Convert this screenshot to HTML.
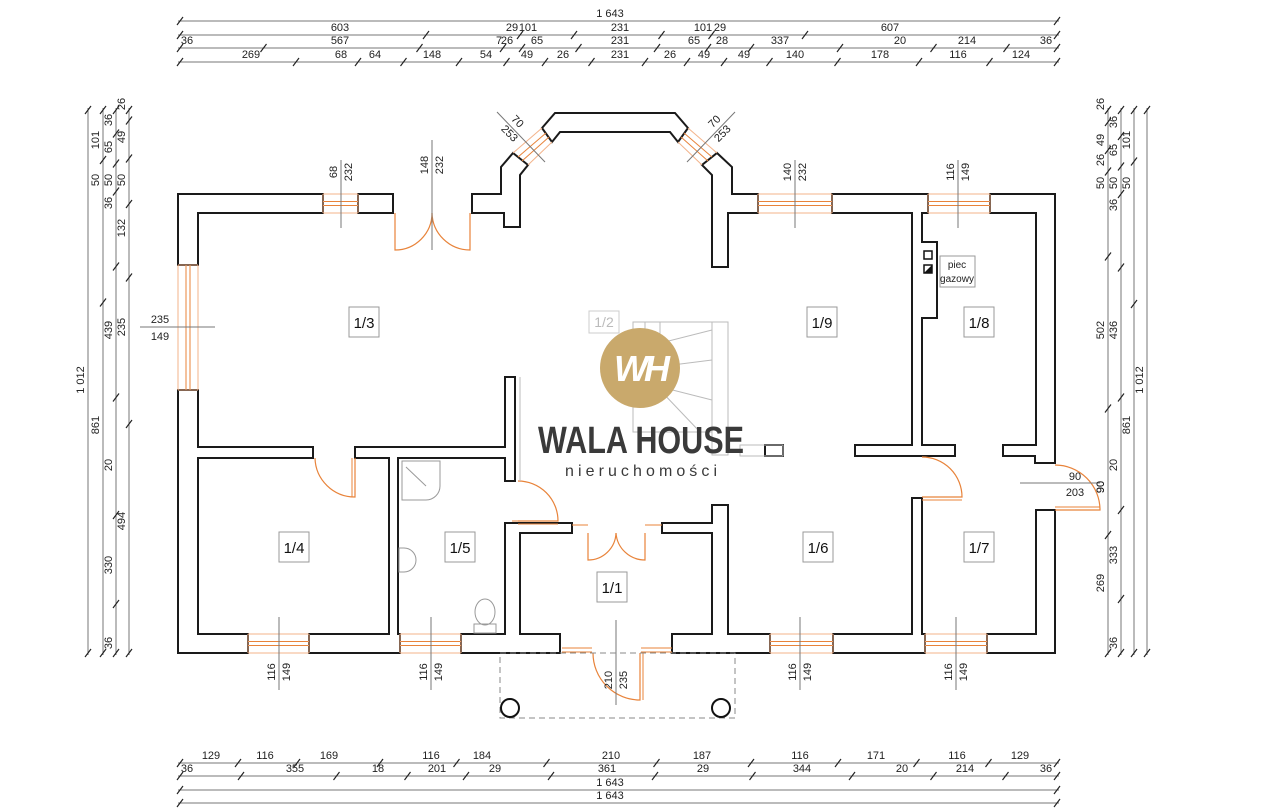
<!DOCTYPE html>
<html><head><meta charset="utf-8"><style>
html,body{margin:0;padding:0;background:#fff;}
svg{display:block;font-family:"Liberation Sans",sans-serif;}
</style></head><body>
<svg id="s" width="1280" height="808" viewBox="0 0 1280 808" xmlns="http://www.w3.org/2000/svg">
<g id="walls" fill="#fff" stroke="#1a1a1a" stroke-width="2" stroke-linejoin="miter">
<polygon points="178,194 323,194 323,213 198,213 198,265 178,265"/>
<polygon points="358,194 393,194 393,213 358,213"/>
<polygon points="472,194 501,194 501,167 513,153 528,165 520,175 520,227 504,227 504,213 472,213"/>
<polygon points="542,128 555,113 675,113 688,128 678,142 670,132 560,132 552,142"/>
<polygon points="758,194 732,194 732,167 717,153 702,165 712,175 712,267 728,267 728,213 758,213"/>
<polygon points="832,194 928,194 928,213 922,213 922,242 937,242 937,318 922,318 922,445 955,445 955,456 855,456 855,445 912,445 912,213 832,213"/>
<polygon points="990,194 1055,194 1055,463 1035,463 1035,456 1003,456 1003,445 1036,445 1036,213 990,213"/>
<polygon points="178,390 198,390 198,447 313,447 313,458 198,458 198,634 248,634 248,653 178,653"/>
<polygon points="355,447 505,447 505,377 515,377 515,481 505,481 505,458 398,458 398,634 400,634 400,653 309,653 309,634 389,634 389,458 355,458"/>
<polygon points="461,634 505,634 505,523 572,523 572,533 520,533 520,634 560,634 560,653 461,653"/>
<polygon points="662,523 712,523 712,505 728,505 728,634 770,634 770,653 672,653 672,634 712,634 712,533 662,533"/>
<polygon points="765,445 783,445 783,456 765,456"/>
<polygon points="912,498 922,498 922,634 925,634 925,653 833,653 833,634 912,634"/>
<polygon points="987,634 1036,634 1036,510 1055,510 1055,653 987,653"/>
</g>
<g id="dyn"></g>
<!-- stairs -->
<g fill="none" stroke="#bbb" stroke-width="1">
<rect x="712" y="322" width="16" height="133"/>
<rect x="633" y="322" width="79" height="110"/>
<line x1="645" y1="322" x2="645" y2="370"/><line x1="660" y1="322" x2="660" y2="370"/>
<line x1="633" y1="350" x2="712" y2="330"/><line x1="633" y1="370" x2="712" y2="360"/>
<line x1="633" y1="380" x2="712" y2="400"/><line x1="660" y1="390" x2="700" y2="432"/>
<line x1="520" y1="377" x2="520" y2="481"/>
<rect x="740" y="445" width="43" height="11"/>
</g>
<!-- porch -->
<rect x="500" y="653" width="235" height="65" fill="none" stroke="#888" stroke-width="1" stroke-dasharray="6,4"/>
<circle cx="510" cy="708" r="9" fill="#fff" stroke="#111" stroke-width="2"/>
<circle cx="721" cy="708" r="9" fill="#fff" stroke="#111" stroke-width="2"/>
<!-- fixtures -->
<g fill="none" stroke="#999" stroke-width="1">
<path d="M402,461 h38 v25 a14,14 0 0 1 -14,14 h-24 z"/>
<line x1="406" y1="467" x2="426" y2="486"/>
<path d="M399,548 h5 a12,12 0 0 1 0,24 h-5 z"/>
<ellipse cx="485" cy="612" rx="10" ry="13"/>
<rect x="474" y="624" width="22" height="9"/>
</g>
<!-- chimney -->
<rect x="924" y="251" width="8" height="8" fill="#fff" stroke="#111" stroke-width="1.5"/>
<rect x="924" y="265" width="8" height="8" fill="#fff" stroke="#111" stroke-width="1.5"/>
<polygon points="924,273 932,265 932,273" fill="#111"/>
<rect x="940" y="256" width="35" height="31" fill="#fff" stroke="#999" stroke-width="1"/>
<text x="957" y="268" font-size="10" text-anchor="middle" fill="#222">piec</text>
<text x="957" y="282" font-size="10" text-anchor="middle" fill="#222">gazowy</text>
<!-- logo -->
<circle cx="640" cy="368" r="40" fill="#c9a96c"/>
<text x="640" y="381" font-size="36" font-weight="bold" font-style="italic" text-anchor="middle" fill="#fff" font-family="Liberation Sans,sans-serif" letter-spacing="-4">WH</text>
<text x="641" y="453" font-size="38" font-weight="bold" text-anchor="middle" fill="#3a3a3a" textLength="206" lengthAdjust="spacingAndGlyphs">WALA HOUSE</text>
<text x="641" y="476" font-size="16" text-anchor="middle" fill="#3a3a3a" textLength="152" lengthAdjust="spacing">nieruchomości</text>
<text x="604" y="327" font-size="14" text-anchor="middle" fill="#bbb">1/2</text>
<rect x="589" y="311" width="30" height="22" fill="none" stroke="#ccc"/>
</svg>
<script>
(function(){
var NS="http://www.w3.org/2000/svg",g=document.getElementById("dyn");
function el(t,a,txt){var e=document.createElementNS(NS,t);for(var k in a)e.setAttribute(k,a[k]);if(txt!=null)e.textContent=txt;g.appendChild(e);return e;}
function ln(x1,y1,x2,y2,c,w,d){var a={x1:x1,y1:y1,x2:x2,y2:y2,stroke:c||"#777","stroke-width":w||1};if(d)a["stroke-dasharray"]=d;return el("line",a);}
function tx(x,y,s,rot,sz,anchor,col){var a={x:x,y:y,"font-size":sz||11,"text-anchor":anchor||"middle",fill:col||"#222"};if(rot)a.transform="rotate("+rot+" "+x+" "+y+")";return el("text",a,s);}
var O="#e8833a",LO="#f3b38a";
function winH(x1,x2,y0,y1){ln(x1,y0,x2,y0,LO);ln(x1,y1,x2,y1,LO);var m=(y0+y1)/2;ln(x1,m-2,x2,m-2,O);ln(x1,m+2,x2,m+2,O);ln(x1,y0,x1,y1,LO);ln(x2,y0,x2,y1,LO);}
function winV(y1,y2,x0,x1){ln(x0,y1,x0,y2,LO);ln(x1,y1,x1,y2,LO);var m=(x0+x1)/2;ln(m-2,y1,m-2,y2,O);ln(m+2,y1,m+2,y2,O);ln(x0,y1,x1,y1,LO);ln(x0,y2,x1,y2,LO);}
winH(323,358,194,213);winH(758,832,194,213);winH(928,990,194,213);
winH(248,309,634,653);winH(400,461,634,653);winH(770,833,634,653);winH(925,987,634,653);
winV(265,390,178,198);
// bay windows
ln(513,153,542,128,LO);ln(528,165,552,142,LO);ln(518,157,546,133,O);ln(522,161,549,137,O);
ln(717,153,688,128,LO);ln(702,165,678,142,LO);ln(712,157,684,133,O);ln(708,161,681,137,O);
// doors
function path(d,c){return el("path",{d:d,fill:"none",stroke:c||O,"stroke-width":1.2});}
path("M395,213 V250 A37,37 0 0 0 432,213");path("M470,213 V250 A38,38 0 0 1 432,213");
path("M355,458 V497 A40,40 0 0 1 315,458");ln(352,458,352,497,O);
path("M518,521 H558 A40,40 0 0 0 518,481");ln(518,524,558,524,O);
path("M588,533 V560 A28,28 0 0 0 616,533");path("M645,533 V560 A29,29 0 0 1 616,533");
path("M640,653 V700 A47,47 0 0 1 593,653");ln(643,653,643,700,O);
path("M922,497 H962 A40,40 0 0 0 922,457");ln(922,500,962,500,O);
path("M1055,510 H1100 A45,45 0 0 0 1055,465");ln(1055,507,1100,507,O);
ln(562,648,592,648,O);ln(562,652,592,652,O);ln(641,648,672,648,O);ln(641,652,672,652,O);
ln(512,521,558,521,O);ln(572,525,588,525,O);ln(645,525,662,525,O);
// window dims
function vd(x,y1,y2,a,b,ty){ln(x,y1,x,y2,"#777");tx(x-4,ty,a,-90);tx(x+11,ty,b,-90);}
vd(341,160,228,"68","232",172);vd(432,140,250,"148","232",165);vd(795,160,228,"140","232",172);vd(958,160,228,"116","149",172);
vd(279,617,690,"116","149",672);vd(431,617,690,"116","149",672);vd(800,617,690,"116","149",672);vd(956,617,690,"116","149",672);vd(616,620,705,"210","235",680);
ln(140,327,215,327,"#777");tx(160,323,"235");tx(160,340,"149");
ln(1020,483,1100,483,"#777");tx(1075,480,"90");tx(1075,496,"203");tx(1104,487,"90",-90);
ln(497,112,545,162,"#777");tx(515,124,"70",45);tx(507,136,"253",45);
ln(735,112,687,162,"#777");tx(717,124,"70",-45);tx(725,136,"253",-45);
// room labels
function rl(x,y,s){el("rect",{x:x-15,y:y-15,width:30,height:30,fill:"#fff",stroke:"#999","stroke-width":1});tx(x,y+6,s,0,15,"middle","#111");}
rl(364,322,"1/3");rl(822,322,"1/9");rl(979,322,"1/8");rl(294,547,"1/4");rl(460,547,"1/5");rl(612,587,"1/1");rl(818,547,"1/6");rl(979,547,"1/7");
// dimension chains
function tick(x,y){ln(x-3,y+4,x+3,y-4,"#222",1.2);}
function hchain(y,labels,x0,x1){ln(x0-2,y,x1+2,y,"#777");var xs=labels.map(function(l){return l[0];});tick(x0,y);tick(x1,y);for(var i=0;i<xs.length-1;i++)tick((xs[i]+xs[i+1])/2,y);labels.forEach(function(l){tx(l[0],y-4,l[1]);});}
hchain(21,[[610,"1 643"]],180,1057);
hchain(35,[[340,"603"],[512,"29"],[528,"101"],[620,"231"],[703,"101"],[720,"29"],[890,"607"]],180,1057);
hchain(48,[[187,"36"],[340,"567"],[499,"7"],[507,"26"],[537,"65"],[620,"231"],[694,"65"],[722,"28"],[780,"337"],[900,"20"],[967,"214"],[1046,"36"]],180,1057);
hchain(62,[[251,"269"],[341,"68"],[375,"64"],[432,"148"],[486,"54"],[527,"49"],[563,"26"],[620,"231"],[670,"26"],[704,"49"],[744,"49"],[795,"140"],[880,"178"],[958,"116"],[1021,"124"]],180,1057);
hchain(763,[[211,"129"],[265,"116"],[329,"169"],[431,"116"],[482,"184"],[611,"210"],[702,"187"],[800,"116"],[876,"171"],[957,"116"],[1020,"129"]],180,1057);
hchain(776,[[187,"36"],[295,"355"],[378,"18"],[437,"201"],[495,"29"],[607,"361"],[703,"29"],[802,"344"],[902,"20"],[965,"214"],[1046,"36"]],180,1057);
hchain(790,[[610,"1 643"]],180,1057);hchain(803,[[610,"1 643"]],180,1057);
function vchain(x,labels,y0,y1){ln(x,y0-2,x,y1+2,"#777");var ys=labels.map(function(l){return l[0];});tick(x,y0);tick(x,y1);for(var i=0;i<ys.length-1;i++)tick(x,(ys[i]+ys[i+1])/2);labels.forEach(function(l){tx(x-4,l[0],l[1],-90);});}
vchain(88,[[380,"1 012"]],110,653);
vchain(103,[[140,"101"],[180,"50"],[425,"861"]],110,653);
vchain(116,[[120,"36"],[147,"65"],[180,"50"],[203,"36"],[330,"439"],[465,"20"],[565,"330"],[643,"36"]],110,653);
vchain(129,[[104,"26"],[137,"49"],[180,"50"],[228,"132"],[327,"235"],[521,"494"]],110,653);
vchain(1108,[[104,"26"],[140,"49"],[160,"26"],[183,"50"],[330,"502"],[487,"90"],[583,"269"]],110,653);
vchain(1121,[[122,"36"],[150,"65"],[183,"50"],[205,"36"],[330,"436"],[465,"20"],[555,"333"],[643,"36"]],110,653);
vchain(1134,[[140,"101"],[183,"50"],[425,"861"]],110,653);
vchain(1147,[[380,"1 012"]],110,653);
})();
</script>
</body></html>
